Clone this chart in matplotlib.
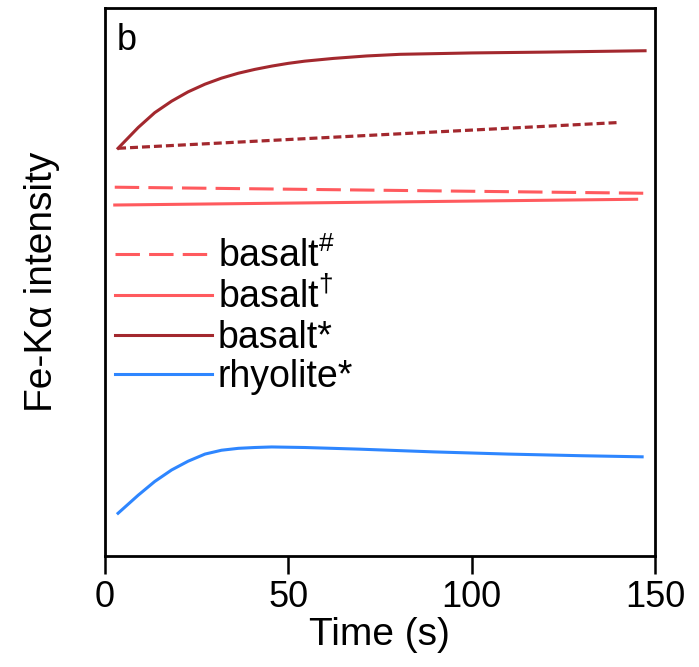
import matplotlib
matplotlib.use("Agg")
import matplotlib.pyplot as plt

plt.rcParams['font.family'] = ['Liberation Sans', 'DejaVu Sans']
plt.rcParams['mathtext.fontset'] = 'custom'
plt.rcParams['mathtext.rm'] = 'Liberation Sans'
plt.rcParams['mathtext.it'] = 'Liberation Sans'

# basalt* (solid, dark red)
t_bas_star = [3.6, 9.1, 13.6, 18.2, 22.7, 27.3, 31.8, 36.4, 40.9, 45.5, 50, 54.5,
              62.3, 71.4, 80.5, 100, 120, 147.3]
y_bas_star = [74.4, 78.2, 80.9, 83.0, 84.7, 86.1, 87.2, 88.1, 88.8, 89.4, 89.9, 90.3,
              90.8, 91.25, 91.55, 91.8, 91.95, 92.2]

# basalt* reference (dotted, dark red)
t_bas_dot = [3.6, 140]
y_bas_dot = [74.4, 79.1]

# basalt# (dashed, light red)
t_bas_hash = [2.7, 146.8]
y_bas_hash = [67.3, 66.2]

# basalt† (solid, light red)
t_bas_dag = [2.7, 145]
y_bas_dag = [64.05, 65.1]

# rhyolite* (blue)
t_rhy = [3.6, 9.1, 13.6, 18.2, 22.7, 27.3, 31.8, 36.4, 40.9, 45.5, 54.5,
         69.4, 89.7, 110, 130, 146.5]
y_rhy = [7.8, 11.1, 13.6, 15.7, 17.3, 18.6, 19.3, 19.65, 19.8, 19.9, 19.8,
         19.5, 19.0, 18.6, 18.3, 18.1]

dark_red = '#A3282E'
light_red = '#FF5A5E'
blue = '#2E86FF'

fig = plt.figure(figsize=(6.99, 6.67), dpi=100)
ax = fig.add_axes([0.150, 0.1664, 0.787, 0.8216])

ax.plot(t_bas_hash, y_bas_hash, color=light_red, lw=2.2, linestyle=(0, (8, 3)), label=r'basalt$^{\#}$')
ax.plot(t_bas_dag, y_bas_dag, color=light_red, lw=2.2, label=r'basalt$^{\dagger}$')
ax.plot(t_bas_star, y_bas_star, color=dark_red, lw=2.2, label='basalt*')
ax.plot(t_rhy, y_rhy, color=blue, lw=2.2, label='rhyolite*')
ax.plot(t_bas_dot, y_bas_dot, color=dark_red, lw=2.3, linestyle=(0, (2.5, 1.25)))

ax.set_xlim(0, 150)
ax.set_ylim(0, 100)
ax.set_xticks([0, 50, 100, 150])
ax.set_yticks([])
ax.tick_params(axis='x', length=13, width=1.8, pad=4, labelsize=26)
for s in ax.spines.values():
    s.set_linewidth(2.0)

ax.set_xlabel('Time (s)', fontsize=28, labelpad=2)
ax.set_ylabel('Fe-Kα intensity', fontsize=28, labelpad=32)

ax.text(0.022, 0.972, 'b', transform=ax.transAxes, fontsize=26, va='top', ha='left')

ax.legend(loc='upper left', bbox_to_anchor=(0.018, 0.582), frameon=False,
          borderpad=0, borderaxespad=0, handlelength=2.6, handletextpad=0.15,
          labelspacing=0.09, fontsize=27)

fig.savefig('out.png', dpi=100)
